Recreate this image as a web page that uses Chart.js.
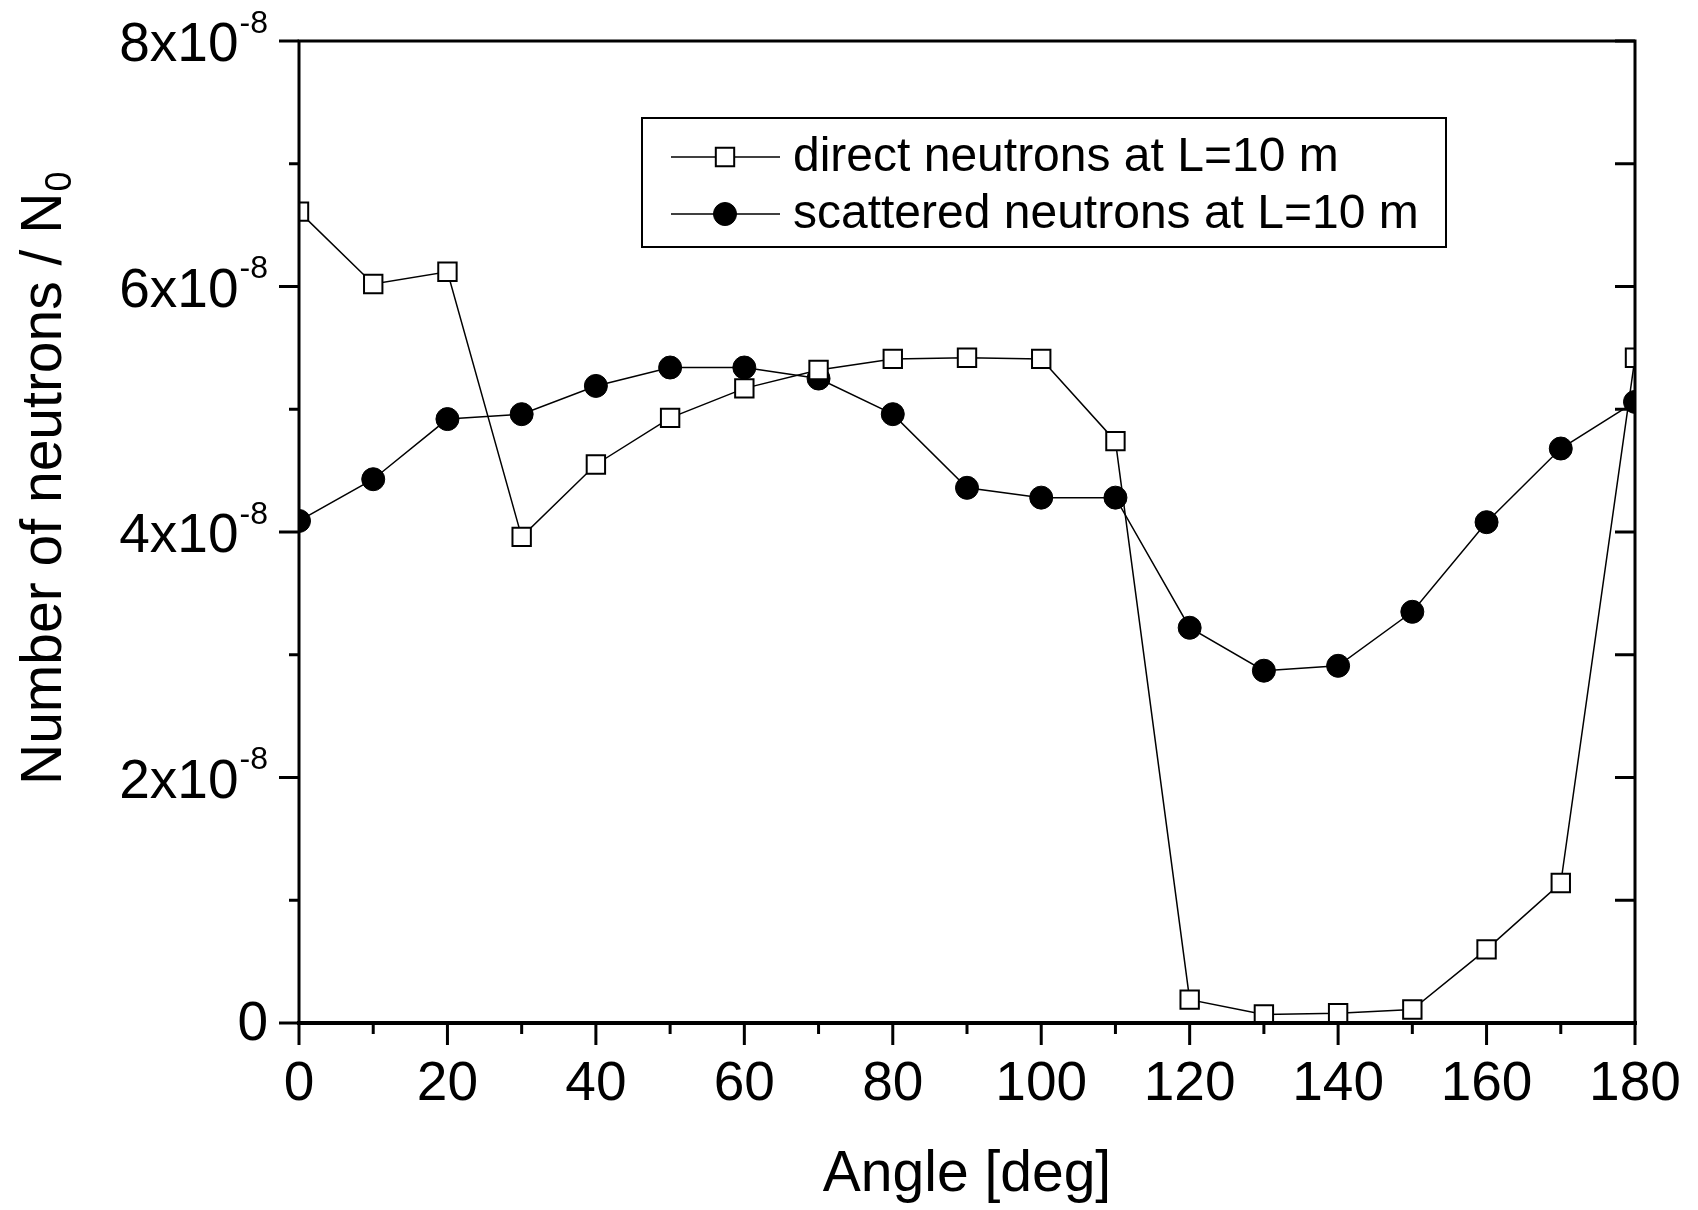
<!DOCTYPE html>
<html>
<head>
<meta charset="utf-8">
<script src="https://cdn.jsdelivr.net/npm/chart.js@4.4.1/dist/chart.umd.min.js"></script>
<style>
  html, body { margin: 0; padding: 0; background: #fff; }
  #wrap { width: 1698px; height: 1210px; }
</style>
</head>
<body>
<div id="wrap"><canvas id="chart" width="1698" height="1210"></canvas></div>
<script>
// angles in degrees
const angles = [0, 10, 20, 30, 40, 50, 60, 70, 80, 90, 100, 110, 120, 130, 140, 150, 160, 170, 180];

// number of neutrons / N0
const directNeutrons = [6.61e-8, 6.02e-8, 6.12e-8, 3.96e-8, 4.55e-8, 4.93e-8, 5.17e-8, 5.32e-8, 5.41e-8, 5.42e-8,
    5.41e-8, 4.74e-8, 0.19e-8, 0.07e-8, 0.08e-8, 0.11e-8, 0.60e-8, 1.14e-8, 5.42e-8];
const scatteredNeutrons = [4.09e-8, 4.43e-8, 4.92e-8, 4.96e-8, 5.19e-8, 5.34e-8, 5.34e-8, 5.25e-8, 4.96e-8, 4.36e-8,
    4.28e-8, 4.28e-8, 3.22e-8, 2.87e-8, 2.91e-8, 3.35e-8, 4.08e-8, 4.68e-8, 5.06e-8];

const seriesLabels = ['direct neutrons at L=10 m', 'scattered neutrons at L=10 m'];
const xTicks = [0, 20, 40, 60, 80, 100, 120, 140, 160, 180];
const yTickMantissas = [0, 2, 4, 6, 8];
const yExponent = '-8';

const FONT = 'Arial, "Liberation Sans", Helvetica, sans-serif';

function toPoints(xs, ys) {
    return xs.map((x, i) => ({ x: x, y: ys[i] }));
}

// frame, ticks, tick labels, titles and legend drawn Origin-style
const originAxes = {
    id: 'originAxes',
    afterDraw(chart) {
        const ctx = chart.ctx;
        const area = chart.chartArea;
        const xs = chart.scales.x;
        const ys = chart.scales.y;
        ctx.save();
        ctx.strokeStyle = '#000';
        ctx.fillStyle = '#000';

        // frame
        ctx.lineWidth = 3;
        ctx.beginPath();
        ctx.moveTo(area.left, area.bottom);
        ctx.lineTo(area.left, area.top);
        ctx.lineTo(area.right, area.top);
        ctx.lineTo(area.right, area.bottom);
        ctx.stroke();
        ctx.lineWidth = 4;
        ctx.beginPath();
        ctx.moveTo(area.left - 2, area.bottom);
        ctx.lineTo(area.right + 2, area.bottom);
        ctx.stroke();

        // bottom ticks (outward)
        ctx.lineWidth = 3;
        for (let v = 0; v <= 180; v += 10) {
            const px = xs.getPixelForValue(v);
            const len = v % 20 === 0 ? 22 : 11;
            ctx.beginPath();
            ctx.moveTo(px, area.bottom);
            ctx.lineTo(px, area.bottom + len);
            ctx.stroke();
        }
        // left ticks (outward) and right ticks (inward)
        for (let m = 0; m <= 8; m++) {
            const py = ys.getPixelForValue(m * 1e-8);
            const len = m % 2 === 0 ? 20 : 10;
            ctx.beginPath();
            ctx.moveTo(area.left, py);
            ctx.lineTo(area.left - len, py);
            ctx.stroke();
            ctx.beginPath();
            ctx.moveTo(area.right, py);
            ctx.lineTo(area.right - 20, py);
            ctx.stroke();
        }

        // x tick labels
        ctx.font = '55px ' + FONT;
        ctx.textAlign = 'center';
        ctx.textBaseline = 'middle';
        xTicks.forEach(v => {
            ctx.fillText(String(v), xs.getPixelForValue(v), area.bottom + 62);
        });

        // y tick labels with superscript exponent
        const rightEdge = area.left - 31;
        yTickMantissas.forEach(m => {
            const py = ys.getPixelForValue(m * 1e-8);
            if (m === 0) {
                ctx.font = '55px ' + FONT;
                ctx.textAlign = 'right';
                ctx.fillText('0', rightEdge, py + 2);
                return;
            }
            ctx.font = '32px ' + FONT;
            const supW = ctx.measureText(yExponent).width;
            ctx.textAlign = 'left';
            ctx.fillText(yExponent, rightEdge - supW, py - 17);
            ctx.font = '55px ' + FONT;
            ctx.textAlign = 'right';
            ctx.fillText(m + 'x10', rightEdge - supW - 1, py + 5);
        });

        // x title
        ctx.font = '57px ' + FONT;
        ctx.textAlign = 'center';
        ctx.fillText('Angle [deg]', (area.left + area.right) / 2, 1175);

        // y title (rotated) with subscript
        ctx.save();
        ctx.translate(45, 785);
        ctx.rotate(-Math.PI / 2);
        ctx.textAlign = 'left';
        ctx.textBaseline = 'middle';
        ctx.font = '57px ' + FONT;
        const main = 'Number of neutrons / N';
        ctx.fillText(main, 0, 0);
        const w = ctx.measureText(main).width;
        ctx.font = '36px ' + FONT;
        ctx.fillText('0', w + 1, 16);
        ctx.restore();

        // legend
        const box = { x: 642, y: 118, w: 804, h: 129 };
        ctx.fillStyle = '#fff';
        ctx.fillRect(box.x, box.y, box.w, box.h);
        ctx.lineWidth = 2;
        ctx.strokeStyle = '#000';
        ctx.strokeRect(box.x, box.y, box.w, box.h);
        const rows = [157, 214];
        chart.data.datasets.forEach((ds, i) => {
            const ry = rows[i];
            ctx.strokeStyle = '#000';
            ctx.lineWidth = 1.5;
            ctx.beginPath();
            ctx.moveTo(671, ry);
            ctx.lineTo(780, ry);
            ctx.stroke();
            ctx.fillStyle = ds.pointBackgroundColor;
            ctx.lineWidth = ds.pointBorderWidth;
            Chart.helpers.drawPoint(ctx, {
                pointStyle: ds.pointStyle,
                radius: ds.pointRadius,
                borderWidth: ds.pointBorderWidth,
                rotation: 0
            }, 725, ry);
            ctx.fillStyle = '#000';
            ctx.font = '48px ' + FONT;
            ctx.textAlign = 'left';
            ctx.textBaseline = 'middle';
            ctx.fillText(ds.label, 793, ry + 1);
        });

        ctx.restore();
    }
};

const chart = new Chart(document.getElementById('chart'), {
    type: 'line',
    data: {
        datasets: [
            {
                label: seriesLabels[0],
                data: toPoints(angles, directNeutrons),
                borderColor: '#000',
                borderWidth: 1.5,
                pointStyle: 'rect',
                pointRadius: 13,
                pointBorderWidth: 2,
                pointBackgroundColor: '#fff',
                pointBorderColor: '#000',
                fill: false,
                tension: 0
            },
            {
                label: seriesLabels[1],
                data: toPoints(angles, scatteredNeutrons),
                borderColor: '#000',
                borderWidth: 1.5,
                pointStyle: 'circle',
                pointRadius: 11.5,
                pointBorderWidth: 1,
                pointBackgroundColor: '#000',
                pointBorderColor: '#000',
                fill: false,
                tension: 0
            }
        ]
    },
    options: {
        responsive: false,
        animation: false,
        devicePixelRatio: 1,
        layout: { padding: { left: 299, right: 63, top: 41, bottom: 187 } },
        plugins: {
            legend: { display: false },
            tooltip: { enabled: false }
        },
        scales: {
            x: {
                type: 'linear',
                min: 0,
                max: 180,
                grid: { display: false },
                border: { display: false },
                ticks: { display: false },
                afterFit: s => { s.height = 0; }
            },
            y: {
                type: 'linear',
                min: 0,
                max: 8e-8,
                grid: { display: false },
                border: { display: false },
                ticks: { display: false },
                afterFit: s => { s.width = 0; }
            }
        }
    },
    plugins: [originAxes]
});
</script>
</body>
</html>
